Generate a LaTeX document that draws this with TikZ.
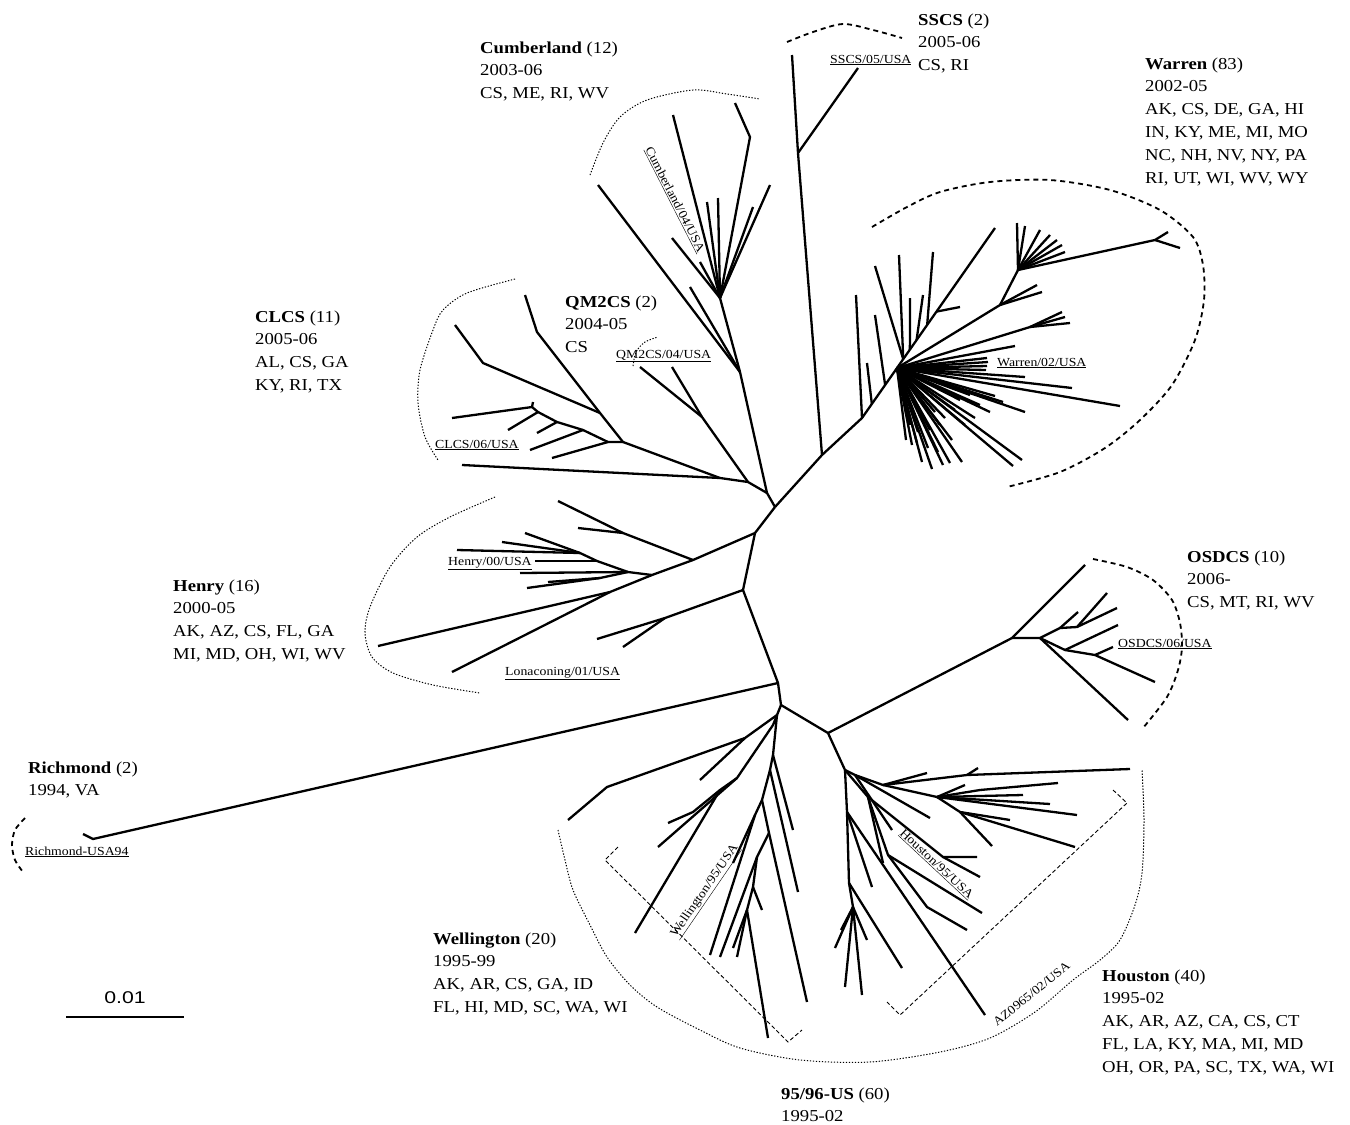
\documentclass[tikz,border=0pt]{standalone}
\usepackage{fontspec}
\setmainfont{Liberation Serif}[FakeStretch=1.12]
\newfontfamily\barfont{Liberation Sans}[FakeStretch=1.25]
\usetikzlibrary{calc}
\newcommand\infoblock[4]{%
  \foreach \lineText [count=\i from 0] in {#4}
    \node[big] (#1\i) at ({#2},{#3+22.8*\i}) {\lineText};}
\tikzset{
  br/.style={line width=2.3pt, line join=round},
  big/.style={font=\fontsize{16.7}{22.8}\selectfont, inner sep=0pt, anchor=base west},
  tag/.style={font=\fontsize{12.3}{14}\selectfont, inner sep=0pt, anchor=base west},
  dasharc/.style={line width=1.8pt, dash pattern=on 5pt off 4pt},
  dotarc/.style={line width=1pt, dash pattern=on 1.3pt off 1.7pt},
  bracket/.style={line width=0.9pt, dash pattern=on 4pt off 2.5pt},
}
\begin{document}
\begin{tikzpicture}[x=1pt,y=-1pt]
\useasboundingbox[fill=white] (0,0) rectangle (1350,1125);

% ---------------- backbone
\coordinate (P1) at (775,507);
\coordinate (P2) at (755,533);
\coordinate (P3) at (743,590);
\coordinate (P4) at (778,683);
\coordinate (P5) at (781,705);
\coordinate (P6) at (828,733);
\draw[br] (P1)--(P2)--(P3)--(P4)--(P5)--(P6);

% ---------------- SSCS
\coordinate (WA) at (822,455);
\coordinate (S1) at (798,153);
\draw[br] (P1)--(WA)--(S1)--(792,55);
\draw[br] (S1)--(858,68);

% ---------------- Warren
\coordinate (WB) at (862,418);
\coordinate (WT) at (995,228);
\coordinate (WC) at ($(WB)!0.074!(WT)$);
\coordinate (WD) at ($(WB)!0.174!(WT)$);
\coordinate (WH) at ($(WB)!0.263!(WT)$);
\coordinate (WL1) at ($(WB)!0.31!(WT)$);
\coordinate (WL2) at ($(WB)!0.36!(WT)$);
\coordinate (WL3) at ($(WB)!0.41!(WT)$);
\coordinate (WL4) at ($(WB)!0.49!(WT)$);
\coordinate (WL5) at ($(WB)!0.56!(WT)$);
\draw[br] (WA)--(WB)--(WT);
\draw[br] (WB)--(856,295);
\draw[br] (WC)--(867,363);
\draw[br] (WD)--(875,315);
\draw[br] (WL1)--(899,255);
\draw[br] (WL1)--(875,266);
\draw[br] (WL2)--(910,298);
\draw[br] (WL3)--(923,295);
\draw[br] (WL4)--(933,252);
\draw[br] (WL5)--(960,307);
% upper sub-cluster
\coordinate (WU1) at (1000,305);
\coordinate (WU2) at (1018,270);
\coordinate (WU3) at (1155,240);
\draw[br] (WH)--(WU1)--(WU2)--(WU3)--(1168,232);
\draw[br] (WU3)--(1180,248);
\draw[br] (WU1)--(1037,285);
\draw[br] (WU1)--(1042,292);
\foreach \p in {(1017,223),(1025,226),(1040,230),(1050,235),(1057,240),(1062,245),(1065,252)}
  \draw[br] (WU2)--\p;
% middle sub-cluster
\coordinate (WM) at (1030,327);
\draw[br] (WH)--(WM);
\foreach \p in {(1062,312),(1065,317),(1070,323)} \draw[br] (WM)--\p;
% hub fan
\foreach \p in {(1015,346),(987,358),(988,362),(987,366),(986,370),(1025,377),(1072,388),(1120,406),(1025,412),(995,396),(1003,402),(1022,460),(1013,466),(962,462),(950,463),(943,465),(932,469),(922,462),(912,445),(917,443),(906,440),(960,400),(955,410),(945,418),(940,425),(930,430),(925,420),(935,412),(970,395),(980,405),(928,448),(938,452),(952,440),(965,425),(975,418),(990,412),(918,432),(910,425)}
  \draw[br] (WH)--\p;

% ---------------- Cumberland
\coordinate (C0) at (767,493);
\coordinate (Cu) at (740,372);
\coordinate (Cu2) at (720,298);
\coordinate (Ck) at (750,137);
\draw[br] (P1)--(C0)--(Cu)--(Cu2);
\draw[br] (Cu)--(598,185);
\draw[br] (Cu)--(690,287);
\foreach \p in {(673,115),(707,202),(718,198),(700,262),(770,185),(753,207),(672,238)}
  \draw[br] (Cu2)--\p;
\draw[br] (Cu2)--(Ck)--(735,103);

% ---------------- CLCS / QM2CS
\coordinate (C1) at (748,482);
\coordinate (C9) at (720,478);
\coordinate (C2) at (623,442);
\coordinate (C3) at (600,413);
\coordinate (C4) at (608,442);
\coordinate (C5) at (583,430);
\coordinate (C6) at (557,422);
\coordinate (C7) at (538,412);
\coordinate (C8) at (532,407);
\coordinate (Q1) at (702,417);
\draw[br] (C0)--(C1)--(C9)--(462,465);
\draw[br] (C9)--(C2)--(C3)--(537,332)--(525,295);
\draw[br] (C3)--(483,363)--(455,325);
\draw[br] (C2)--(C4)--(C5)--(C6)--(C7)--(C8)--(452,418);
\draw[br] (C8)--(533,402);
\draw[br] (C4)--(552,458);
\draw[br] (C5)--(530,450);
\draw[br] (C6)--(537,433);
\draw[br] (C7)--(508,430);
\draw[br] (C1)--(Q1)--(640,367);
\draw[br] (Q1)--(672,367);

% ---------------- Henry
\coordinate (Ha) at (693,560);
\coordinate (Hb) at (652,575);
\coordinate (Hc) at (610,592);
\coordinate (Hx) at (623,533);
\coordinate (Hd) at (628,572);
\coordinate (He) at (597,561);
\coordinate (Hf) at (580,553);
\coordinate (Hg) at (600,578);
\draw[br] (P2)--(Ha)--(Hb)--(Hc)--(378,646);
\draw[br] (Hc)--(452,672);
\draw[br] (Ha)--(Hx)--(558,501);
\draw[br] (Hx)--(578,528);
\draw[br] (Hb)--(Hd)--(He)--(Hf)--(525,533);
\draw[br] (He)--(535,561);
\draw[br] (Hf)--(502,542);
\draw[br] (Hf)--(457,550);
\draw[br] (Hd)--(520,573);
\draw[br] (Hd)--(Hg)--(548,582);
\draw[br] (Hg)--(527,588);
% Lonaconing
\coordinate (L1) at (665,618);
\draw[br] (P3)--(L1)--(597,639);
\draw[br] (L1)--(623,647);

% ---------------- Richmond
\coordinate (R1) at (93,839);
\draw[br] (P4)--(R1)--(83,834);

% ---------------- OSDCS
\coordinate (O1) at (1012,638);
\coordinate (O2) at (1040,638);
\coordinate (O3) at (1060,628);
\coordinate (O4) at (1077,627);
\coordinate (O5) at (1065,650);
\coordinate (O6) at (1095,655);
\draw[br] (P6)--(O1)--(1085,565);
\draw[br] (O1)--(O2)--(O3)--(O4)--(1107,593);
\draw[br] (O4)--(1117,608);
\draw[br] (O3)--(1078,612);
\draw[br] (O2)--(O5)--(O6)--(1155,682);
\draw[br] (O5)--(1118,625);
\draw[br] (O6)--(1113,647);
\draw[br] (O2)--(1128,720);

% ---------------- Houston
\coordinate (Hh1) at (845,770);
\coordinate (Hh2) at (855,775);
\coordinate (Hh4) at (883,785);
\coordinate (Hh5) at (967,775);
\coordinate (Hh6) at (937,797);
\coordinate (Hh7) at (960,812);
\coordinate (Hh12) at (868,797);
\coordinate (Hh13) at (888,855);
\coordinate (Hh17) at (943,857);
\coordinate (Hh3) at (847,812);
\coordinate (Hh14) at (849,883);
\coordinate (Hh15) at (853,907);
\draw[br] (P6)--(Hh1)--(Hh2)--(Hh4)--(927,773);
\draw[br] (Hh4)--(Hh5)--(1130,769);
\draw[br] (Hh5)--(978,768);
\draw[br] (Hh4)--(Hh6);
\foreach \p in {(965,785),(1023,795),(1050,804),(1077,815)} \draw[br] (Hh6)--\p;
\draw[br] (Hh6)--(980,790)--(1058,783);
\draw[br] (Hh6)--(Hh7)--(1010,820);
\draw[br] (Hh7)--(1075,847);
\draw[br] (Hh7)--(992,846);
\draw[br] (Hh2)--(930,818);
\draw[br] (Hh2)--(892,830);
\draw[br] (Hh1)--(Hh12)--(883,863);
\draw[br] (Hh12)--(Hh17)--(977,857);
\draw[br] (Hh17)--(980,877);
\draw[br] (Hh12)--(Hh13)--(982,913);
\draw[br] (Hh13)--(927,907)--(967,930);
\draw[br] (Hh1)--(Hh3)--(Hh14)--(Hh15);
\draw[br] (Hh3)--(985,1015);
\draw[br] (Hh3)--(872,887);
\draw[br] (Hh14)--(902,968);
\foreach \p in {(835,948),(845,987),(862,995),(867,940),(841,930)} \draw[br] (Hh15)--\p;

% ---------------- Wellington / 95-96
\coordinate (Wa) at (777,715);
\coordinate (Wb) at (745,738);
\coordinate (Wc) at (773,725);
\coordinate (Wd) at (737,778);
\coordinate (We) at (720,790);
\coordinate (Wf) at (773,755);
\coordinate (Wg) at (770,770);
\coordinate (Wh) at (762,800);
\coordinate (Wi) at (755,815);
\coordinate (Wk) at (769,833);
\coordinate (Wl) at (757,857);
\coordinate (Wm) at (753,887);
\coordinate (Wn) at (747,910);
\draw[br] (P5)--(Wa)--(Wb)--(607,787)--(568,820);
\draw[br] (Wb)--(700,780);
\draw[br] (Wa)--(Wc)--(Wd)--(We)--(635,933);
\draw[br] (Wd)--(658,847);
\draw[br] (We)--(693,812)--(668,823);
\draw[br] (Wa)--(Wf)--(Wg)--(Wh)--(Wi)--(710,955);
\draw[br] (Wf)--(793,830);
\draw[br] (Wg)--(798,892);
\draw[br] (Wh)--(Wk)--(807,1002);
\draw[br] (Wi)--(733,863);
\draw[br] (Wk)--(Wl)--(Wm)--(Wn)--(768,1038);
\draw[br] (Wl)--(720,957);
\draw[br] (Wm)--(762,910);
\draw[br] (Wn)--(737,957);
\draw[br] (Wn)--(733,948);

% ---------------- group outlines
\draw[dasharc] plot[smooth] coordinates {(787,42) (813,32) (843,24) (873,30) (902,38)};
\draw[dasharc] plot[smooth] coordinates {(872,227) (907,207) (940,192) (990,182) (1050,180) (1110,190) (1160,210) (1193,237) (1203,265) (1204,300) (1195,340) (1172,385) (1140,420) (1105,448) (1060,472) (1007,487)};
\draw[dasharc] plot[smooth] coordinates {(1093,559) (1127,567) (1153,580) (1172,600) (1180,623) (1182,647) (1178,670) (1167,697) (1143,728)};
\draw[dasharc] plot[smooth] coordinates {(25,818) (15,830) (12,845) (15,860) (23,872)};
\draw[dotarc] plot[smooth] coordinates {(590,175) (603,143) (620,117) (647,100) (693,90) (727,94) (760,99)};
\draw[dotarc] plot[smooth] coordinates {(515,279) (467,293) (443,310) (433,330) (420,370) (418,403) (425,437) (438,460)};
\draw[dotarc] plot[smooth] coordinates {(495,497) (450,517) (417,537) (390,567) (370,607) (365,633) (372,657) (393,673) (433,685) (480,693)};
\draw[dotarc] plot[smooth] coordinates {(633,366) (636,352) (645,342) (658,337)};
\draw[dotarc] plot[smooth] coordinates {(558,830) (565,860) (573,890) (590,925) (607,957) (630,985) (657,1007) (700,1030) (740,1048) (800,1060) (870,1062) (940,1052) (990,1038) (1035,1012) (1073,980) (1100,960) (1120,940) (1135,905) (1142,873) (1144,820) (1142,770)};
\draw[bracket] (618,847)--(605,860)--(788,1042)--(802,1030);
\draw[bracket] (1113,790)--(1127,803)--(900,1015)--(887,1002);

% ---------------- strain labels
\node[tag] (lsscs) at (830,63) {\underline{SSCS/05/USA}};
\node[tag] (lwarren) at (997,366) {\underline{Warren/02/USA}};
\node[tag] (lqm2) at (616,358) {\underline{QM2CS/04/USA}};
\node[tag] (lclcs) at (435,448) {\underline{CLCS/06/USA}};
\node[tag] (lhenry) at (448,565) {\underline{Henry/00/USA}};
\node[tag] (llona) at (505,675) {\underline{Lonaconing/01/USA}};
\node[tag] (losdcs) at (1118,647) {\underline{OSDCS/06/USA}};
\node[tag] (lrich) at (25,855) {\underline{Richmond-USA94}};
\node[tag, rotate=-63] (lcumb) at (645,149) {\underline{Cumberland/04/USA}};
\node[tag, rotate=55.5] (lwell) at (676,938) {\underline{Wellington/95/USA}};
\node[tag, rotate=-43] (lhous) at (899,834) {\underline{Houston/95/USA}};
\node[tag, rotate=39] (laz) at (997,1027) {AZ0965/02/USA};

% ---------------- group descriptions
\infoblock{sscs}{918}{25}{{\textbf{SSCS} (2)},2005-06,{CS, RI}}
\infoblock{cumb}{480}{53}{{\textbf{Cumberland} (12)},2003-06,{CS, ME, RI, WV}}
\infoblock{warren}{1145}{69}{{\textbf{Warren} (83)},2002-05,{AK, CS, DE, GA, HI},{IN, KY, ME, MI, MO},{NC, NH, NV, NY, PA},{RI, UT, WI, WV, WY}}
\infoblock{clcs}{255}{322}{{\textbf{CLCS} (11)},2005-06,{AL, CS, GA},{KY, RI, TX}}
\infoblock{qm}{565}{307}{{\textbf{QM2CS} (2)},2004-05,CS}
\infoblock{henry}{173}{591}{{\textbf{Henry} (16)},2000-05,{AK, AZ, CS, FL, GA},{MI, MD, OH, WI, WV}}
\infoblock{osdcs}{1187}{562}{{\textbf{OSDCS} (10)},2006-,{CS, MT, RI, WV}}
\infoblock{rich}{28}{773}{{\textbf{Richmond} (2)},{1994, VA}}
\infoblock{well}{433}{944}{{\textbf{Wellington} (20)},1995-99,{AK, AR, CS, GA, ID},{FL, HI, MD, SC, WA, WI}}
\infoblock{hous}{1102}{981}{{\textbf{Houston} (40)},1995-02,{AK, AR, AZ, CA, CS, CT},{FL, LA, KY, MA, MI, MD},{OH, OR, PA, SC, TX, WA, WI}}
\infoblock{us}{781}{1099}{{\textbf{95/96-US} (60)},1995-02}

% ---------------- scale bar
\coordinate (sb1) at (66,1017);
\coordinate (sb2) at (184,1017);
\draw[line width=2pt] (sb1)--(sb2);
\node[font=\barfont\fontsize{17}{20}\selectfont, inner sep=0pt, anchor=base] (sbl) at (125,1003) {0.01};
\end{tikzpicture}
\end{document}
